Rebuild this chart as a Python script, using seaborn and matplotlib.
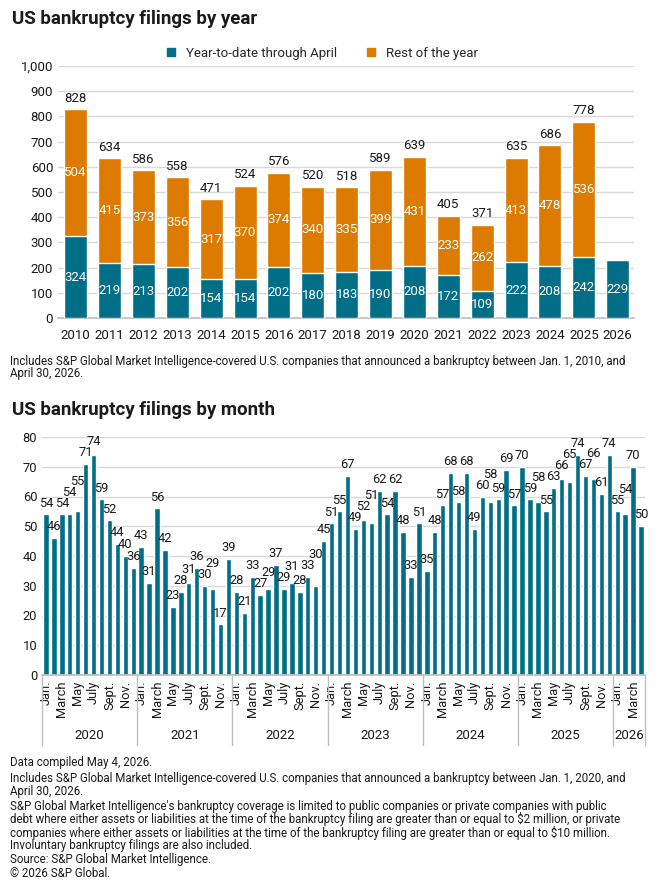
import numpy as np
import pandas as pd
import matplotlib
matplotlib.use("Agg")
import matplotlib.pyplot as plt
import matplotlib.transforms as mtransforms
from matplotlib.lines import Line2D
import seaborn as sns

## yearly data (filings)
years = [str(y) for y in range(2010, 2027)]
ytd_april = [324, 219, 213, 202, 154, 154, 202, 180, 183, 190, 208, 172, 109, 222, 208, 242, 229]
rest_of_year = [504, 415, 373, 356, 317, 370, 374, 340, 335, 399, 431, 233, 262, 413, 478, 536, 0]

## monthly data (filings)
month_names = ["Jan.", "Feb.", "March", "April", "May", "June",
               "July", "Aug.", "Sept.", "Oct.", "Nov.", "Dec."]
filings_2020 = [54, 46, 54, 54, 55, 71, 74, 59, 52, 44, 40, 36]
filings_2021 = [43, 31, 56, 42, 23, 28, 31, 36, 30, 29, 17, 39]
filings_2022 = [28, 21, 33, 27, 29, 37, 29, 31, 28, 33, 30, 45]
filings_2023 = [51, 55, 67, 49, 52, 51, 62, 54, 62, 48, 33, 51]
filings_2024 = [35, 48, 57, 68, 58, 68, 49, 60, 58, 59, 69, 57]
filings_2025 = [70, 59, 58, 55, 63, 66, 65, 74, 67, 66, 61, 74]
filings_2026 = [55, 54, 70, 50]
monthly = {"2020": filings_2020, "2021": filings_2021, "2022": filings_2022,
           "2023": filings_2023, "2024": filings_2024, "2025": filings_2025,
           "2026": filings_2026}

TEAL = "#006e87"
ORANGE = "#dd7a00"
GRID = "#d9d9d9"
TXT = "#1a1a1a"
NOTE_FS = 8.3
NOTE_LS = 0.95

sns.set_theme(style="white")
plt.rcParams["font.family"] = ["Roboto", "DejaVu Sans"]

fig = plt.figure(figsize=(6.6, 8.9), dpi=100)

## ---------------- by year ----------------
ax1 = fig.add_axes([58 / 660, 1 - 318 / 890, 576 / 660, 252 / 890])
df_year = pd.DataFrame({"year": years, "ytd": ytd_april, "rest": rest_of_year})
df_year["total"] = df_year["ytd"] + df_year["rest"]

sns.barplot(data=df_year, x="year", y="total", color=ORANGE, saturation=1,
            width=0.68, errorbar=None, ax=ax1, zorder=2)
sns.barplot(data=df_year, x="year", y="ytd", color=TEAL, saturation=1,
            width=0.68, errorbar=None, ax=ax1, zorder=3)

for i, row in df_year.iterrows():
    ax1.text(i, row["ytd"] / 2, f"{row['ytd']}", ha="center", va="center",
             color="white", fontsize=9.5, zorder=5)
    if row["rest"] > 0:
        ax1.text(i, row["ytd"] + row["rest"] / 2, f"{row['rest']}", ha="center",
                 va="center", color="white", fontsize=9.5, zorder=5)
        ax1.text(i, row["total"] + 18, f"{row['total']}", ha="center", va="bottom",
                 color=TXT, fontsize=9.5, zorder=5)

ax1.set_ylim(0, 1000)
ax1.set_xlim(-0.52, 16.48)
ax1.set_yticks(range(0, 1001, 100))
ax1.set_yticklabels([f"{v:,}" for v in range(0, 1001, 100)])
ax1.yaxis.grid(True, color=GRID, linewidth=1)
ax1.set_axisbelow(True)
ax1.set_xlabel("")
ax1.set_ylabel("")
ax1.tick_params(axis="both", length=0, labelsize=9.5, colors=TXT)
ax1.tick_params(axis="x", pad=8)
for s in ["top", "right", "left"]:
    ax1.spines[s].set_visible(False)
ax1.spines["bottom"].set_color("#bfbfbf")

handles = [Line2D([], [], marker="s", linestyle="", color=TEAL, markersize=6),
           Line2D([], [], marker="s", linestyle="", color=ORANGE, markersize=6)]
fig.legend(handles, ["Year-to-date through April", "Rest of the year"],
           loc="center", bbox_to_anchor=(318 / 660, 1 - 53 / 890), ncol=2,
           frameon=False, fontsize=9.5, handletextpad=0.1, columnspacing=1.6)

fig.text(12 / 660, 1 - 19 / 890, "US bankruptcy filings by year", fontsize=13.5,
         fontweight="bold", color=TXT, va="center")
fig.text(10 / 660, 1 - 355 / 890,
         "Includes S&P Global Market Intelligence-covered U.S. companies that announced a bankruptcy between Jan. 1, 2010, and\nApril 30, 2026.",
         fontsize=NOTE_FS, color=TXT, va="top", linespacing=NOTE_LS)

## ---------------- by month ----------------
ax2 = fig.add_axes([42 / 660, 1 - 675 / 890, 603 / 660, 238 / 890])
rows = []
for yr, vals in monthly.items():
    for m, v in enumerate(vals):
        rows.append({"year": yr, "month": month_names[m], "label": f"{month_names[m]} {yr}", "filings": v})
df_month = pd.DataFrame(rows)

sns.barplot(data=df_month, x="label", y="filings", color=TEAL, saturation=1,
            width=0.68, errorbar=None, ax=ax2, zorder=2)

# value labels, bumped up when they collide with the previous one
prev_y = None
for i, v in enumerate(df_month["filings"]):
    y = v + 1.6
    if prev_y is not None and abs(y - prev_y) < 3.7:
        y = prev_y + 3.7
    ax2.text(i, y, str(v), ha="center", va="bottom", fontsize=9.3, color=TXT, zorder=5)
    prev_y = y

ax2.set_ylim(0, 80)
ax2.set_xlim(-0.5, len(df_month) - 0.5)
ax2.set_yticks(range(0, 81, 10))
ax2.yaxis.grid(True, color=GRID, linewidth=1)
ax2.set_axisbelow(True)
ax2.set_xlabel("")
ax2.set_ylabel("")
tick_pos = [i for i, m in enumerate(df_month["month"]) if month_names.index(m) % 2 == 0]
ax2.set_xticks(tick_pos)
ax2.set_xticklabels([df_month["month"][i] for i in tick_pos], rotation=90)
ax2.tick_params(axis="both", length=0, labelsize=9.3, colors=TXT)
ax2.tick_params(axis="x", pad=4)
for s in ["top", "right", "left"]:
    ax2.spines[s].set_visible(False)
ax2.spines["bottom"].set_color("#bfbfbf")

# year groups under the month labels
trans = mtransforms.blended_transform_factory(ax2.transData, ax2.transAxes)
start = 0
bounds = [-0.5]
for yr, vals in monthly.items():
    end = start + len(vals)
    ax2.text((start + end - 1) / 2, -0.255, yr, transform=trans, ha="center",
             va="center", fontsize=9.5, color=TXT)
    bounds.append(end - 0.5)
    start = end
for b in bounds:
    ax2.plot([b, b], [0, -0.295], transform=trans, color="#bfbfbf", lw=1, clip_on=False)

fig.text(12 / 660, 1 - 410 / 890, "US bankruptcy filings by month", fontsize=13.5,
         fontweight="bold", color=TXT, va="center")

notes = [
    (756, "Data compiled May 4, 2026."),
    (772, "Includes S&P Global Market Intelligence-covered U.S. companies that announced a bankruptcy between Jan. 1, 2020, and\nApril 30, 2026."),
    (800, "S&P Global Market Intelligence's bankruptcy coverage is limited to public companies or private companies with public\n"
          "debt where either assets or liabilities at the time of the bankruptcy filing are greater than or equal to $2 million, or private\n"
          "companies where either assets or liabilities at the time of the bankruptcy filing are greater than or equal to $10 million.\n"
          "Involuntary bankruptcy filings are also included."),
    (853, "Source: S&P Global Market Intelligence."),
    (867, "\u00a9 2026 S&P Global."),
]
for y, t in notes:
    fig.text(10 / 660, 1 - y / 890, t, fontsize=NOTE_FS, color=TXT, va="top", linespacing=NOTE_LS)

fig.savefig("out.png", dpi=100)
